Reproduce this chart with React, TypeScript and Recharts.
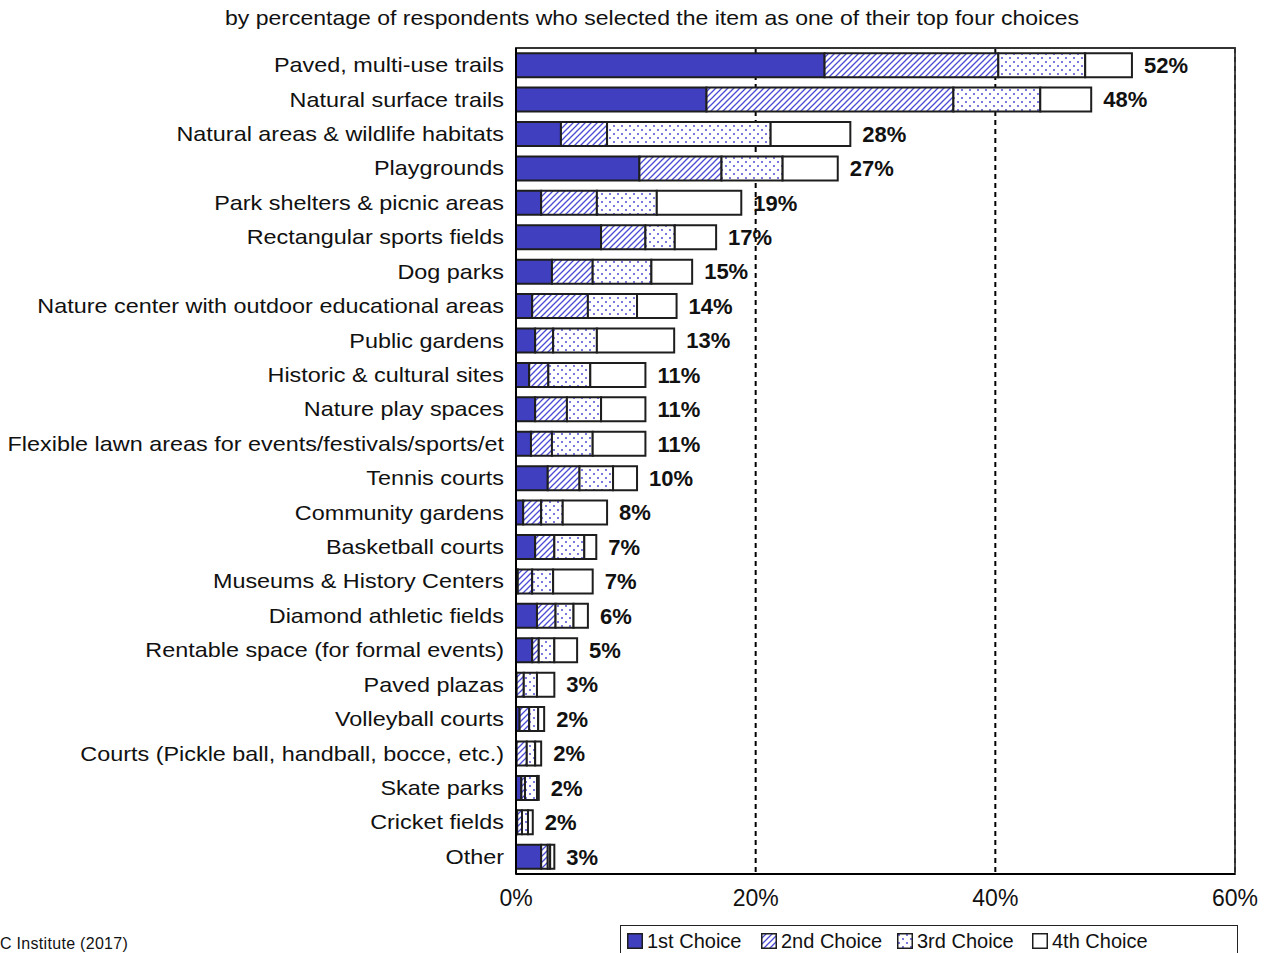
import React from "react";
import { BarChart, Bar, XAxis, YAxis, CartesianGrid, LabelList, ReferenceArea } from "recharts";

const categories = [
  "Paved, multi-use trails",
  "Natural surface trails",
  "Natural areas & wildlife habitats",
  "Playgrounds",
  "Park shelters & picnic areas",
  "Rectangular sports fields",
  "Dog parks",
  "Nature center with outdoor educational areas",
  "Public gardens",
  "Historic & cultural sites",
  "Nature play spaces",
  "Flexible lawn areas for events/festivals/sports/et",
  "Tennis courts",
  "Community gardens",
  "Basketball courts",
  "Museums & History Centers",
  "Diamond athletic fields",
  "Rentable space (for formal events)",
  "Paved plazas",
  "Volleyball courts",
  "Courts (Pickle ball, handball, bocce, etc.)",
  "Skate parks",
  "Cricket fields",
  "Other",
];

const firstChoice = [25.75, 15.9, 3.75, 10.3, 2.1, 7.1, 3.0, 1.35, 1.6, 1.1, 1.6, 1.25, 2.65, 0.6, 1.6, 0.15, 1.75, 1.35, 0.05, 0.3, 0.05, 0.45, 0.1, 2.1];
const secondChoice = [14.5, 20.6, 3.85, 6.85, 4.65, 3.7, 3.4, 4.65, 1.5, 1.6, 2.65, 1.75, 2.65, 1.5, 1.6, 1.2, 1.55, 0.55, 0.6, 0.8, 0.85, 0.3, 0.4, 0.55];
const thirdChoice = [7.25, 7.25, 13.65, 5.1, 5.0, 2.45, 4.9, 4.1, 3.65, 3.5, 2.85, 3.4, 2.8, 1.8, 2.5, 1.75, 1.5, 1.3, 1.1, 0.75, 0.7, 1.0, 0.5, 0.2];
const fourthChoice = [3.9, 4.25, 6.65, 4.6, 7.05, 3.45, 3.4, 3.3, 6.45, 4.6, 3.7, 4.4, 2.0, 3.7, 1.0, 3.3, 1.2, 1.9, 1.45, 0.5, 0.5, 0.15, 0.4, 0.35];
const totals = [52, 48, 28, 27, 19, 17, 15, 14, 13, 11, 11, 11, 10, 8, 7, 7, 6, 5, 3, 2, 2, 2, 2, 3];

const xTicks = [0, 20, 40, 60];
const seriesNames = ["1st Choice", "2nd Choice", "3rd Choice", "4th Choice"];
const titleText = "by percentage of respondents who selected the item as one of their top four choices";
const sourceText = "C Institute (2017)";

const data = categories.map((name, i) => ({
  name,
  c1: firstChoice[i],
  c2: secondChoice[i],
  c3: thirdChoice[i],
  c4: fourthChoice[i],
  total: totals[i],
}));

const BLUE = "#3f3fbf";
const STROKE = "#1e1e1e";
const FONT = "'Liberation Sans', Arial, sans-serif";

const fills = ["url(#solidBlue)", "url(#hatch)", "url(#dots)", "#ffffff"];

const YTick = (props: any) => {
  const { x, y, payload } = props;
  return (
    <text
      transform={`translate(${x},${y}) scale(1.17,1)`}
      x={0}
      y={0}
      dy="0.35em"
      textAnchor="end"
      fontFamily={FONT}
      fontSize={20}
      fill="#111"
    >
      {payload.value}
    </text>
  );
};

const XTick = (props: any) => {
  const { x, y, payload } = props;
  return (
    <text x={x} y={y} dy="0.71em" textAnchor="middle" fontFamily={FONT} fontSize={23} fill="#111">
      {`${payload.value}%`}
    </text>
  );
};

const Swatch = ({ fill }: { fill: string }) => (
  <svg width={16} height={16} style={{ display: "block" }}>
    <rect x={0.75} y={0.75} width={14.5} height={14.5} fill={fill} stroke={STROKE} strokeWidth={1.5} />
  </svg>
);

export default function App() {
  return (
    <div style={{ position: "absolute", left: 0, top: 0, width: 1272, height: 953, background: "#fff", overflow: "hidden" }}>
      <svg width={0} height={0} style={{ position: "absolute" }}>
        <defs>
          <pattern id="solidBlue" patternUnits="userSpaceOnUse" width={4} height={4}>
            <rect width={4} height={4} fill={BLUE} />
          </pattern>
          <pattern id="hatch" patternUnits="userSpaceOnUse" width={6} height={6}>
            <rect width={6} height={6} fill="#fff" />
            <path d="M-1,1 l2,-2 M0,6 l6,-6 M5,7 l2,-2" stroke="#4a4ad6" strokeWidth={1.3} />
          </pattern>
          <pattern id="dots" patternUnits="userSpaceOnUse" width={8} height={8}>
            <rect width={8} height={8} fill="#fff" />
            <circle cx={2} cy={2} r={0.9} fill="#3a3ad0" />
            <circle cx={6} cy={6} r={0.9} fill="#3a3ad0" />
          </pattern>
        </defs>
      </svg>

      <svg width={1272} height={40} style={{ position: "absolute", left: 0, top: 0 }}>
        <text
          transform="translate(652,25) scale(1.15,1)"
          x={0}
          y={0}
          textAnchor="middle"
          fontFamily={FONT}
          fontSize={20}
          fill="#111"
        >
          {titleText}
        </text>
      </svg>

      <div style={{ position: "absolute", left: 0, top: 0 }}>
        <BarChart
          width={1272}
          height={953}
          data={data}
          layout="vertical"
          margin={{ top: 48, right: 37, bottom: 39, left: 0 }}
          barCategoryGap="15%"
        >
          <CartesianGrid horizontal={false} stroke="#000" strokeWidth={2} strokeDasharray="5 4" />
          <XAxis
            type="number"
            domain={[0, 60]}
            ticks={xTicks}
            tickLine={false}
            axisLine={{ stroke: "#000", strokeWidth: 2 }}
            tick={<XTick />}
            tickMargin={10}
            height={40}
            interval={0}
          />
          <YAxis
            type="category"
            dataKey="name"
            width={516}
            tickLine={false}
            axisLine={{ stroke: "#000", strokeWidth: 2 }}
            tick={<YTick />}
            tickMargin={6}
            interval={0}
          />
          <ReferenceArea x1={0} x2={60} fill="none" stroke="#333" strokeWidth={1.8} fillOpacity={0} ifOverflow="visible" />
          <Bar dataKey="c1" stackId="a" name={seriesNames[0]} fill={fills[0]} stroke={STROKE} strokeWidth={2} isAnimationActive={false} />
          <Bar dataKey="c2" stackId="a" name={seriesNames[1]} fill={fills[1]} stroke={STROKE} strokeWidth={2} isAnimationActive={false} />
          <Bar dataKey="c3" stackId="a" name={seriesNames[2]} fill={fills[2]} stroke={STROKE} strokeWidth={2} isAnimationActive={false} />
          <Bar dataKey="c4" stackId="a" name={seriesNames[3]} fill={fills[3]} stroke={STROKE} strokeWidth={2} isAnimationActive={false}>
            <LabelList
              dataKey="total"
              position="right"
              offset={12}
              formatter={(v: any) => `${v}%`}
              style={{ fontFamily: FONT, fontSize: 22, fontWeight: 700, fill: "#111" }}
            />
          </Bar>
        </BarChart>
      </div>

      <div
        style={{
          position: "absolute",
          left: 620,
          top: 925,
          width: 618,
          height: 40,
          border: "1.5px solid #222",
          background: "#fff",
          boxSizing: "border-box",
        }}
      >
        {seriesNames.map((n, i) => (
          <div
            key={n}
            style={{
              position: "absolute",
              left: [6, 140, 276, 411][i],
              top: 5,
              display: "flex",
              alignItems: "center",
              gap: 4,
              fontFamily: FONT,
              fontSize: 20,
              color: "#111",
              lineHeight: "20px",
            }}
          >
            <Swatch fill={fills[i]} />
            <span>{n}</span>
          </div>
        ))}
      </div>

      <div style={{ position: "absolute", left: 0, top: 935, fontFamily: FONT, fontSize: 16, color: "#111", letterSpacing: "0.3px" }}>
        {sourceText}
      </div>
    </div>
  );
}
